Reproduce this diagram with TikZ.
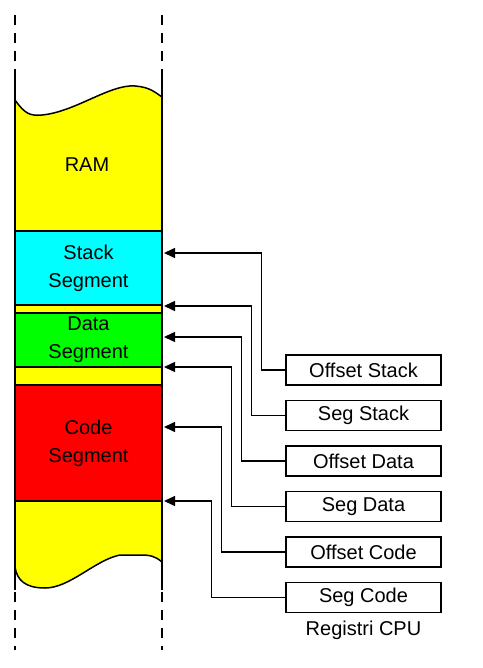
\documentclass[tikz,border=0pt]{standalone}
\usepackage{fontspec}
\setmainfont{Liberation Sans}
\usetikzlibrary{arrows.meta,positioning}

\definecolor{ramgelb}{RGB}{255,255,0}
\definecolor{stackcyan}{RGB}{0,255,255}
\definecolor{datagruen}{RGB}{0,255,0}
\definecolor{coderot}{RGB}{255,0,0}

\tikzset{
  seg/.style={draw,line width=1.5pt,minimum width=147pt,inner sep=0pt,align=center,
    font=\fontsize{20}{28}\selectfont},
  reg/.style={draw,line width=1.5pt,minimum width=155pt,minimum height=30pt,inner sep=0pt,
    font=\fontsize{20}{22}\selectfont},
  conn/.style={line width=1.5pt,-{Triangle[length=11pt,width=10pt]}},
  rand/.style={line width=1.5pt,dash pattern=on 10pt off 8pt}
}

\begin{document}
\begin{tikzpicture}[x=1pt,y=-1pt]
\useasboundingbox (0,0) rectangle (482,668);

% Speicher (gelb, oben und unten gewellt)
\fill[ramgelb] (15,100) .. controls (25,114) and (30,116) .. (42,115)
  .. controls (75,112) and (110,84) .. (135,86)
  .. controls (150,87) and (156,93) .. (162,97)
  -- (162,562) .. controls (155,556) and (150,555) .. (140,555) -- (120,555)
  .. controls (95,560) and (70,588) .. (45,588)
  .. controls (25,588) and (17,580) .. (15,567) -- cycle;
\draw[line width=1.5pt] (15,100) .. controls (25,114) and (30,116) .. (42,115)
  .. controls (75,112) and (110,84) .. (135,86)
  .. controls (150,87) and (156,93) .. (162,97);
\draw[line width=1.5pt] (162,562) .. controls (155,556) and (150,555) .. (140,555) -- (120,555)
  .. controls (95,560) and (70,588) .. (45,588)
  .. controls (25,588) and (17,580) .. (15,567);

% Raender
\draw[line width=1.5pt] (15,72) -- (15,590);
\draw[line width=1.5pt] (162,75) -- (162,590);
\draw[rand] (15,15) -- (15,72);
\draw[rand] (162,15) -- (162,75);
\draw[rand] (15,592) -- (15,650);
\draw[rand] (162,592) -- (162,650);

% Segmente
\node[seg,draw=none] (ram) at (87,165) {RAM};
\node[seg,fill=stackcyan,minimum height=74pt] (stack) at (88.5,268) {Stack\\Segment};
\node[seg,fill=datagruen,minimum height=54pt] (data) at (88.5,340) {Data\\Segment};
\node[seg,fill=coderot,minimum height=116pt] (code) at (88.5,443) {Code\\Segment};

% Zielpunkte der Pfeile
\coordinate (t1) at (164,253);
\coordinate (t2) at (164,306);
\coordinate (t3) at (164,337);
\coordinate (t4) at (164,367);
\coordinate (t5) at (164,427);
\coordinate (t6) at (164,501);

% Register
\node[reg] (ostack) at (363.5,370) {Offset Stack};
\node[reg,below=14pt of ostack] (sstack) {Seg Stack};
\node[reg,below=14pt of sstack] (odata) {Offset Data};
\node[reg,below=14pt of odata] (sdata) {Seg Data};
\node[reg,below=14pt of sdata] (ocode) {Offset Code};
\node[reg,below=14pt of ocode] (scode) {Seg Code};
\node[below=4pt of scode,font=\fontsize{20}{22}\selectfont] (cpu) {Registri CPU};

% Verbindungen
\draw[conn] (ostack.west) -- ++(-24,0) |- (t1);
\draw[conn] (sstack.west) -- ++(-34,0) |- (t2);
\draw[conn] (odata.west) -- ++(-44,0) |- (t3);
\draw[conn] (sdata.west) -- ++(-54,0) |- (t4);
\draw[conn] (ocode.west) -- ++(-64,0) |- (t5);
\draw[conn] (scode.west) -- ++(-74,0) |- (t6);

\end{tikzpicture}
\end{document}
